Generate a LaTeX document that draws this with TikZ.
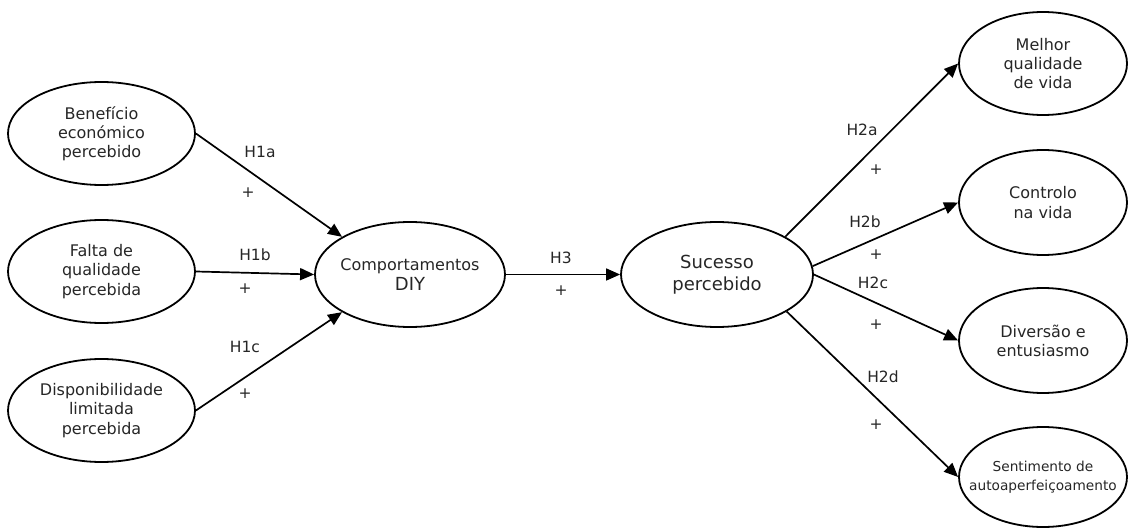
\documentclass[tikz,border=0pt]{standalone}
\usepackage{fontspec}
\setmainfont{DejaVu Sans}
\usetikzlibrary{shapes.geometric,arrows.meta}
\begin{document}
\begin{tikzpicture}[x=1pt,y=-1pt,
  oval/.style={ellipse,draw,line width=1.8pt,inner sep=0pt,
    minimum width=187pt,minimum height=103pt},
  intext/.style={align=center,inner sep=0pt,text=black!85,
    font=\fontsize{16}{19.2}\selectfont},
  bigtext/.style={intext,font=\fontsize{18}{21.6}\selectfont},
  smalltext/.style={intext,font=\fontsize{13.7}{19}\selectfont},
  hyp/.style={inner sep=0pt,text=black!85,font=\fontsize{15.5}{18}\selectfont},
  link/.style={line width=1.7pt,-{Triangle[length=14pt,width=12pt]}}]
\useasboundingbox (0,0) rectangle (1130,529);

% antecedents
\node[oval,label={[intext]center:{Benefício\\económico\\percebido}}] (b1) at (101.5,133.5) {};
\node[oval,label={[intext]center:{Falta de\\qualidade\\percebida}}] (b2) at (101.5,271.5) {};
\node[oval,label={[intext]center:{Disponibilidade\\limitada\\percebida}}] (b3) at (101.5,410.5) {};

% mediator and central construct
\node[oval,minimum width=190pt,minimum height=105pt,
  label={[intext]center:{Comportamentos\\{\fontsize{18}{20}\selectfont DIY}}}] (c) at (410,274.5) {};
\node[oval,minimum width=192pt,minimum height=105pt,
  label={[bigtext]center:{Sucesso\\percebido}}] (s) at (717,274.5) {};

% outcomes
\node[oval,minimum width=168pt,minimum height=103pt,
  label={[intext]center:{Melhor\\qualidade\\de vida}}] (r1) at (1043,63.5) {};
\node[oval,minimum width=168pt,minimum height=105pt,
  label={[intext]center:{Controlo\\na vida}}] (r2) at (1043,202.5) {};
\node[oval,minimum width=168pt,minimum height=105pt,
  label={[intext]center:{Diversão e\\entusiasmo}}] (r3) at (1043,340.5) {};
\node[oval,minimum width=168pt,minimum height=100pt,
  label={[smalltext]center:{Sentimento de\\autoaperfeiçoamento}}] (r4) at (1043,477) {};

% hypothesised paths
\draw[link] (b1.east) -- (c.151);
\draw[link] (b2.east) -- (c.west);
\draw[link] (b3.east) -- (c.209);
\draw[link] (c.east) -- (s.west);
\draw[link] (s.29) -- (r1.west);
\draw[link] (s.5) -- (r2.west);
\draw[link] (s.east) -- (r3.west);
\draw[link] (s.-28) -- (r4.west);

% path labels
\node[hyp] (h1a) at (260,152) {H1a};
\node[hyp] (p1a) at (248,193) {+};
\node[hyp] (h1b) at (255,255) {H1b};
\node[hyp] (p1b) at (245,289) {+};
\node[hyp] (h1c) at (245,347) {H1c};
\node[hyp] (p1c) at (245,394) {+};
\node[hyp] (h3) at (561,258) {H3};
\node[hyp] (p3) at (561,291) {+};
\node[hyp] (h2a) at (862,130) {H2a};
\node[hyp] (p2a) at (876,170) {+};
\node[hyp] (h2b) at (865,222) {H2b};
\node[hyp] (p2b) at (876,255) {+};
\node[hyp] (h2c) at (873,283) {H2c};
\node[hyp] (p2c) at (876,325) {+};
\node[hyp] (h2d) at (883,377) {H2d};
\node[hyp] (p2d) at (876,425) {+};
\end{tikzpicture}
\end{document}
